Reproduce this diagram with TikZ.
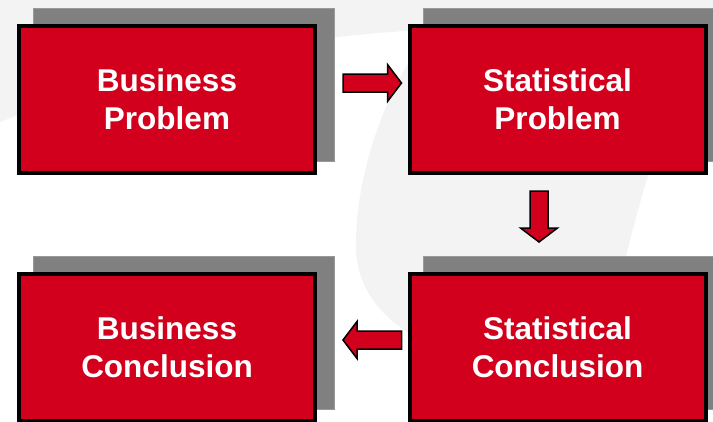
\documentclass[tikz,border=0pt]{standalone}
\usepackage{fontspec}
\setmainfont{Liberation Sans}
\usetikzlibrary{calc}
\definecolor{boxred}{RGB}{210,0,28}
\definecolor{shadowgray}{RGB}{128,128,128}
\definecolor{wmgray}{RGB}{243,243,243}
\tikzset{
  stepbox/.style={draw=black, line width=4pt, fill=boxred, text=white,
    minimum width=296pt, minimum height=147pt, inner sep=0pt, align=center,
    font=\fontsize{31.5}{38}\selectfont\bfseries},
  shadowbox/.style={fill=shadowgray, draw=shadowgray!80!white, line width=0.6pt},
  blockarrow/.style={fill=boxred, draw=black, line width=1.5pt, line join=miter},
  watermark/.style={fill=wmgray, draw=none}
}
\newcommand{\blkarrow}[2]{%
  \path ($(#2)!14pt!(#1)$) coordinate (hb);
  \filldraw[blockarrow] ($(#1)!9pt!90:(#2)$) -- ($(hb)!9pt!90:(#2)$) -- ($(hb)!18.5pt!90:(#2)$)
    -- (#2) -- ($(hb)!18.5pt!-90:(#2)$) -- ($(hb)!9pt!-90:(#2)$) -- ($(#1)!9pt!-90:(#2)$) -- cycle;
}
\begin{document}
\begin{tikzpicture}[x=1pt, y=-1pt]
\useasboundingbox (0,0) rectangle (713,421);
\clip (0,0) rectangle (713,421);
\fill[white] (0,0) rectangle (713,421);
% faint watermark shapes
\path[watermark] (0,0) -- (713,0) -- (713,8) .. controls (560,18) and (450,26) .. (420,30)
  .. controls (250,40) and (120,75) .. (0,122) -- cycle;
\path[watermark] (410,60) .. controls (380,110) and (355,180) .. (356,250)
  .. controls (358,285) and (375,312) .. (412,335) -- (600,380) -- (620,280)
  .. controls (630,240) and (640,200) .. (650,170) -- (690,40) -- cycle;
% shadows
\draw[shadowbox] (33,8) rectangle (334,161);
\draw[shadowbox] (423,8) rectangle (724,161);
\draw[shadowbox] (33,256) rectangle (334,409);
\draw[shadowbox] (423,256) rectangle (724,409);
% boxes
\node[stepbox] (bp) at (167,99.5) {Business\\Problem};
\node[stepbox] (sp) at (557.5,99.5) {Statistical\\Problem};
\node[stepbox] (bc) at (167,347.5) {Business\\Conclusion};
\node[stepbox] (sc) at (557.5,347.5) {Statistical\\Conclusion};
% arrow end points
\coordinate (a1s) at ($(bp.east)+(26,-16.5)$);
\coordinate (a1e) at ($(sp.west)+(-6,-16.5)$);
\coordinate (a2s) at ($(sp.south)+(-18.5,16)$);
\coordinate (a2e) at ($(sp.south)+(-18.5,67)$);
\coordinate (a3s) at ($(sc.west)+(-6,-7.5)$);
\coordinate (a3e) at ($(bc.east)+(26,-7.5)$);
\blkarrow{a1s}{a1e}
\blkarrow{a2s}{a2e}
\blkarrow{a3s}{a3e}
\end{tikzpicture}
\end{document}
